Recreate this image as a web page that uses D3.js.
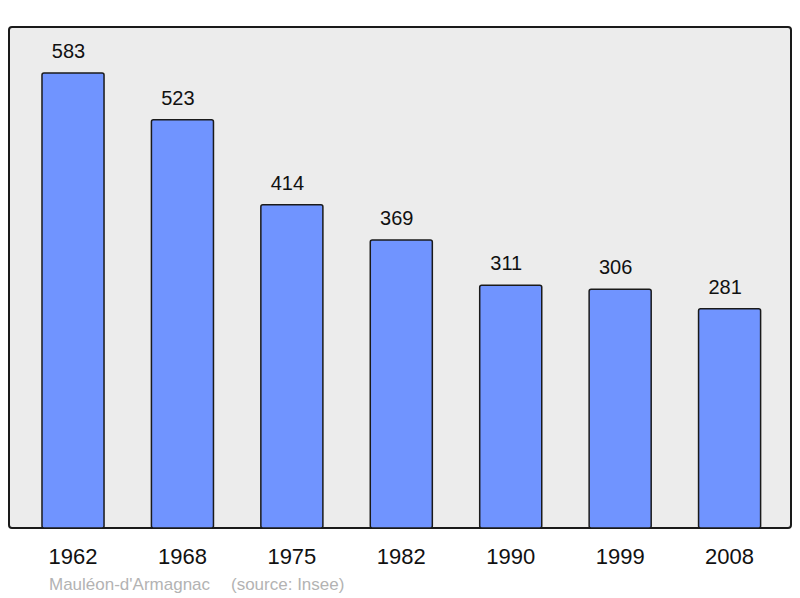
<!DOCTYPE html>
<html>
<head>
<meta charset="utf-8">
<script src="https://cdn.jsdelivr.net/npm/d3@7"></script>
<style>
  body { margin: 0; background: #fff; }
  text { font-family: "Liberation Sans", Arial, sans-serif; }
</style>
</head>
<body>
<div id="chart"></div>
<script>
/* ------------------------------------------------ Data ------------------------------------------------ */

const years = ["1962", "1968", "1975", "1982", "1990", "1999", "2008"];
const population = [583, 523, 414, 369, 311, 306, 281];
const commune = "Mauléon-d'Armagnac";
const source = "(source: Insee)";

/* ------------------------------------------------ Chart ----------------------------------------------- */

const width = 800, height = 598;
const frame = { left: 9, top: 27, right: 791, bottom: 528 };

const svg = d3.select("#chart").append("svg")
    .attr("width", width)
    .attr("height", height);

svg.append("rect")
    .attr("x", frame.left)
    .attr("y", frame.top)
    .attr("width", frame.right - frame.left)
    .attr("height", frame.bottom - frame.top)
    .attr("rx", 3)
    .attr("fill", "#ececec")
    .attr("stroke", "#1a1a1a")
    .attr("stroke-width", 2);

const xScale = d3.scaleBand()
    .domain(years)
    .range([18.3, 784.3])
    .paddingInner(0.433)
    .paddingOuter(0.2165);

const yScale = d3.scaleLinear()
    .domain([0, 641.9])
    .range([frame.bottom, frame.top]);

const data = years.map((y, i) => ({ year: y, value: population[i] }));

svg.selectAll(".bar")
    .data(data)
    .enter()
    .append("rect")
    .attr("class", "bar")
    .attr("x", d => xScale(d.year))
    .attr("y", d => yScale(d.value))
    .attr("width", xScale.bandwidth())
    .attr("height", d => yScale(0) - yScale(d.value))
    .attr("rx", 2)
    .attr("fill", "#7094ff")
    .attr("stroke", "#1a1a1a")
    .attr("stroke-width", 1.5);

/* value labels sit slightly left of the bar centre, as in the original */
svg.selectAll(".value")
    .data(data)
    .enter()
    .append("text")
    .attr("class", "value")
    .attr("x", d => xScale(d.year) + xScale.bandwidth() / 2 - 4.5)
    .attr("y", d => yScale(d.value) - 15)
    .attr("text-anchor", "middle")
    .style("font-size", "20px")
    .attr("fill", "#111")
    .text(d => d.value);

svg.selectAll(".year")
    .data(years)
    .enter()
    .append("text")
    .attr("class", "year")
    .attr("x", d => xScale(d) + xScale.bandwidth() / 2)
    .attr("y", 564)
    .attr("text-anchor", "middle")
    .style("font-size", "22px")
    .attr("fill", "#111")
    .text(d => d);

svg.append("text")
    .attr("x", 49)
    .attr("y", 590)
    .style("font-size", "17px")
    .attr("fill", "#b3b3b3")
    .text(commune);

svg.append("text")
    .attr("x", 231)
    .attr("y", 590)
    .style("font-size", "17px")
    .attr("fill", "#b3b3b3")
    .text(source);
</script>
</body>
</html>
